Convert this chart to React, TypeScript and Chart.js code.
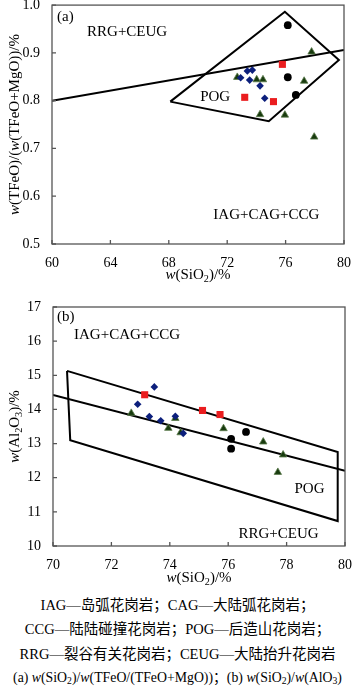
import React, { useEffect, useRef } from 'react';
import { Chart, registerables } from 'chart.js';
Chart.register(...registerables);

const SERIF = '"Liberation Serif", "Times New Roman", serif';

// ---------- Figure (a): SiO2 vs TFeO/(TFeO+MgO) ----------
const aCircleX = [76.15, 76.15, 76.7];
const aCircleY = [0.958, 0.849, 0.812];
const aSquareX = [75.78, 73.2, 75.17];
const aSquareY = [0.876, 0.807, 0.798];
const aDiamondX = [73.38, 73.72, 72.92, 73.54, 74.25, 74.57];
const aDiamondY = [0.862, 0.864, 0.848, 0.843, 0.831, 0.805];
const aTriangleX = [72.69, 74.02, 74.45, 74.25, 75.95, 77.78, 77.27, 77.96];
const aTriangleY = [0.849, 0.844, 0.844, 0.771, 0.770, 0.902, 0.841, 0.724];
const aPolyX = [68.1, 75.95, 79.65, 74.85, 68.1];
const aPolyY = [0.798, 0.986, 0.885, 0.757, 0.798];
const aLineX = [60, 80];
const aLineY = [0.8, 0.906];

// ---------- Figure (b): SiO2 vs Al2O3 ----------
const bCircleX = [76.1, 76.1, 76.61];
const bCircleY = [13.14, 12.85, 13.34];
const bSquareX = [73.14, 75.12, 75.72];
const bSquareY = [14.43, 13.97, 13.85];
const bDiamondX = [73.47, 72.9, 73.3, 73.69, 74.19, 74.46];
const bDiamondY = [14.66, 14.15, 13.79, 13.67, 13.8, 13.3];
const bTriangleX = [72.68, 73.95, 74.19, 74.37, 75.84, 77.2, 77.88, 77.7];
const bTriangleY = [13.89, 13.45, 13.74, 13.32, 13.44, 13.05, 12.67, 12.16];
const bPolyX = [70.48, 79.75, 79.75, 70.59, 70.48];
const bPolyY = [15.13, 12.75, 10.73, 13.1, 15.13];
const bLineX = [70, 80];
const bLineY = [14.42, 12.2];

const zip = (xs: number[], ys: number[]) => xs.map((x, i) => ({ x, y: ys[i] }));

type Seg = { t: string; i?: boolean; s?: boolean };
type Note = { t: string; x: number; y: number };

function drawRich(ctx: CanvasRenderingContext2D, segs: Seg[], cx: number, cy: number, rot: number, size: number) {
  ctx.save();
  ctx.translate(cx, cy);
  ctx.rotate(rot);
  const fontFor = (sg: Seg) => `${sg.i ? 'italic ' : ''}${sg.s ? size * 0.68 : size}px ${SERIF}`;
  const widths = segs.map((sg) => {
    ctx.font = fontFor(sg);
    return ctx.measureText(sg.t).width;
  });
  const total = widths.reduce((a, b) => a + b, 0);
  let x = -total / 2;
  ctx.textBaseline = 'middle';
  ctx.textAlign = 'left';
  ctx.fillStyle = '#000';
  segs.forEach((sg, k) => {
    ctx.font = fontFor(sg);
    ctx.fillText(sg.t, x, sg.s ? size * 0.28 : 0);
    x += widths[k];
  });
  ctx.restore();
}

function pointSets(cx: number[], cy: number[], sx: number[], sy: number[], dx: number[], dy: number[], tx: number[], ty: number[]) {
  return [
    { data: zip(cx, cy), pointStyle: 'circle', pointRadius: 3.9, backgroundColor: '#000', borderColor: '#000', borderWidth: 0 },
    { data: zip(sx, sy), pointStyle: 'rect', pointRadius: 5, backgroundColor: '#ea1d1f', borderColor: '#ea1d1f', borderWidth: 0 },
    { data: zip(dx, dy), pointStyle: 'rectRot', pointRadius: 3.8, backgroundColor: '#0c1f7c', borderColor: '#0c1f7c', borderWidth: 0 },
    { data: zip(tx, ty), pointStyle: 'triangle', pointRadius: 4.3, backgroundColor: '#183b0e', borderColor: '#5c7b4c', borderWidth: 0.8 },
  ];
}

function lineSet(xs: number[], ys: number[]) {
  return { data: zip(xs, ys), showLine: true, pointRadius: 0, borderColor: '#000', borderWidth: 2, fill: false, tension: 0 };
}

interface Cfg {
  height: number;
  area: { left: number; top: number; right: number; bottom: number };
  xMin: number; xMax: number; xStep: number;
  yMin: number; yMax: number; yStep: number; yDec: number;
  datasets: any[];
  xTitle: Seg[]; yTitle: Seg[];
  xTitleY: number; yTitleX: number;
  notes: Note[];
}

function build(canvas: HTMLCanvasElement, c: Cfg) {
  const W = 355;
  const plugin = {
    id: 'decor',
    afterDraw(chart: any) {
      const ctx: CanvasRenderingContext2D = chart.ctx;
      const a = chart.chartArea;
      const xs = chart.scales.x;
      const ys = chart.scales.y;
      ctx.save();
      ctx.strokeStyle = '#555';
      ctx.lineWidth = 1.3;
      ctx.strokeRect(a.left, a.top, a.right - a.left, a.bottom - a.top);
      ctx.beginPath();
      xs.ticks.forEach((t: any) => {
        const p = xs.getPixelForValue(t.value);
        ctx.moveTo(p, a.bottom);
        ctx.lineTo(p, a.bottom - 4);
      });
      ys.ticks.forEach((t: any) => {
        const p = ys.getPixelForValue(t.value);
        ctx.moveTo(a.left, p);
        ctx.lineTo(a.left + 4, p);
      });
      ctx.stroke();
      ctx.fillStyle = '#000';
      ctx.font = `15px ${SERIF}`;
      ctx.textAlign = 'left';
      ctx.textBaseline = 'middle';
      c.notes.forEach((n) => {
        ctx.fillText(n.t, xs.getPixelForValue(n.x), ys.getPixelForValue(n.y));
      });
      ctx.restore();
      drawRich(ctx, c.xTitle, (a.left + a.right) / 2, c.xTitleY, 0, 15);
      drawRich(ctx, c.yTitle, c.yTitleX, (a.top + a.bottom) / 2, -Math.PI / 2, 15);
    },
  };
  return new Chart(canvas, {
    type: 'scatter',
    data: { datasets: c.datasets },
    options: {
      responsive: false,
      animation: false,
      events: [],
      layout: { padding: { left: 0, top: c.area.top, right: W - c.area.right, bottom: 0 } },
      plugins: { legend: { display: false }, tooltip: { enabled: false }, title: { display: false } },
      scales: {
        x: {
          type: 'linear', min: c.xMin, max: c.xMax,
          grid: { display: false }, border: { display: false },
          ticks: { stepSize: c.xStep, padding: 3, color: '#000', font: { family: SERIF, size: 14 }, maxRotation: 0, autoSkip: false },
          afterFit: (s: any) => { s.height = c.height - c.area.bottom; s.paddingLeft = 0; s.paddingRight = 0; },
        },
        y: {
          type: 'linear', min: c.yMin, max: c.yMax,
          grid: { display: false }, border: { display: false },
          ticks: { stepSize: c.yStep, padding: 4, color: '#000', font: { family: SERIF, size: 14 }, autoSkip: false,
            callback: (v: any) => Number(v).toFixed(c.yDec) },
          afterFit: (s: any) => { s.width = c.area.left; s.paddingTop = 0; s.paddingBottom = 0; },
        },
      },
    } as any,
    plugins: [plugin],
  });
}

export default function App() {
  const refA = useRef<HTMLCanvasElement>(null);
  const refB = useRef<HTMLCanvasElement>(null);
  useEffect(() => {
    const chA = build(refA.current!, {
      height: 290,
      area: { left: 52, top: 5, right: 344, bottom: 244 },
      xMin: 60, xMax: 80, xStep: 4,
      yMin: 0.5, yMax: 1.0, yStep: 0.1, yDec: 1,
      datasets: [...pointSets(aCircleX, aCircleY, aSquareX, aSquareY, aDiamondX, aDiamondY, aTriangleX, aTriangleY), lineSet(aPolyX, aPolyY), lineSet(aLineX, aLineY)],
      xTitle: [{ t: 'w', i: true }, { t: '(SiO' }, { t: '2', s: true }, { t: ')/%' }],
      yTitle: [{ t: 'w', i: true }, { t: '(TFeO)/(' }, { t: 'w', i: true }, { t: '(TFeO+MgO))/%' }],
      xTitleY: 275, yTitleX: 15,
      notes: [
        { t: '(a)', x: 60.35, y: 0.975 },
        { t: 'RRG+CEUG', x: 62.4, y: 0.944 },
        { t: 'POG', x: 70.15, y: 0.808 },
        { t: 'IAG+CAG+CCG', x: 71.05, y: 0.561 },
      ],
    });
    const chB = build(refB.current!, {
      height: 302,
      area: { left: 53, top: 17, right: 345, bottom: 256 },
      xMin: 70, xMax: 80, xStep: 2,
      yMin: 10, yMax: 17, yStep: 1, yDec: 0,
      datasets: [...pointSets(bCircleX, bCircleY, bSquareX, bSquareY, bDiamondX, bDiamondY, bTriangleX, bTriangleY), lineSet(bPolyX, bPolyY), lineSet(bLineX, bLineY)],
      xTitle: [{ t: 'w', i: true }, { t: '(SiO' }, { t: '2', s: true }, { t: ')/%' }],
      yTitle: [{ t: 'w', i: true }, { t: '(Al' }, { t: '2', s: true }, { t: 'O' }, { t: '3', s: true }, { t: ')/%' }],
      xTitleY: 288, yTitleX: 15,
      notes: [
        { t: '(b)', x: 70.14, y: 16.7 },
        { t: 'IAG+CAG+CCG', x: 70.72, y: 16.17 },
        { t: 'POG', x: 78.27, y: 11.66 },
        { t: 'RRG+CEUG', x: 76.35, y: 10.34 },
      ],
    });
    return () => { chA.destroy(); chB.destroy(); };
  }, []);

  const cap: React.CSSProperties = {
    position: 'absolute', left: 0, top: 593, width: 355, textAlign: 'center',
    fontFamily: '"Liberation Serif", "Noto Sans CJK SC", serif', fontSize: 14.5, lineHeight: '24.3px',
    color: '#000', whiteSpace: 'nowrap',
  };
  const sub: React.CSSProperties = { fontSize: '0.7em', verticalAlign: '-0.25em', lineHeight: 0 };
  return (
    <div style={{ position: 'absolute', left: 0, top: 0, width: 355, height: 692, background: '#fff', overflow: 'hidden' }}>
      <canvas ref={refA} width={355} height={290} style={{ position: 'absolute', left: 0, top: 0, width: 355, height: 290 }} />
      <canvas ref={refB} width={355} height={302} style={{ position: 'absolute', left: 0, top: 290, width: 355, height: 302 }} />
      <div style={cap}>
        <div>IAG—岛弧花岗岩；CAG—大陆弧花岗岩；</div>
        <div>CCG—陆陆碰撞花岗岩；POG—后造山花岗岩；</div>
        <div>RRG—裂谷有关花岗岩；CEUG—大陆抬升花岗岩</div>
        <div style={{ fontSize: 13.8 }}>(a) <i>w</i>(SiO<span style={sub}>2</span>)/<i>w</i>(TFeO/(TFeO+MgO))；(b) <i>w</i>(SiO<span style={sub}>2</span>)/<i>w</i>(AlO<span style={sub}>3</span>)</div>
      </div>
    </div>
  );
}
